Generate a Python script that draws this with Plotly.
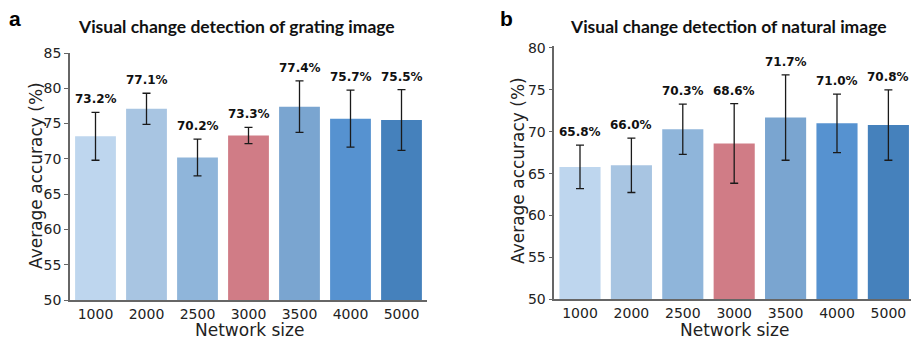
import plotly.graph_objects as go

sizes = ["1000", "2000", "2500", "3000", "3500", "4000", "5000"]
grating_acc = [73.2, 77.1, 70.2, 73.3, 77.4, 75.7, 75.5]
grating_err = [3.4, 2.2, 2.6, 1.15, 3.65, 4.05, 4.3]
natural_acc = [65.8, 66.0, 70.3, 68.6, 71.7, 71.0, 70.8]
natural_err = [2.6, 3.25, 3.0, 4.75, 5.1, 3.5, 4.2]
bar_colors = ["#bed6ee", "#a8c5e2", "#8fb5da", "#d07c86", "#7aa5d0", "#5692d0", "#4581bc"]
titles = ["Visual change detection of grating image", "Visual change detection of natural image"]
panel_letters = ["a", "b"]
x_title = "Network size"
y_title = "Average accuracy (%)"

W, H = 911, 337

def px(x):
    return x / W

def py(y):
    return 1 - y / H

fig = go.Figure()

panels = [
    dict(acc=grating_acc, err=grating_err, xa="x", ya="y", xd=[px(70), px(427)], yd=[py(300), py(53)],
         yr=[50, 85], xr=[-0.5, 6.5], dt=[50, 55, 60, 65, 70, 75, 80, 85],
         xt=(249, 329.5), yt=(36, 176)),
    dict(acc=natural_acc, err=natural_err, xa="x2", ya="y2", xd=[px(554.3), 1.0], yd=[py(299.3), py(46.3)],
         yr=[50, 80.2], xr=[-0.5, 6.44], dt=[50, 55, 60, 65, 70, 75, 80],
         xt=(734.5, 329.5), yt=(518, 171)),
]

axis_font = dict(family="DejaVu Sans", size=14, color="#222")
title_font = dict(family="DejaVu Sans", size=17, color="#222")
for i, p in enumerate(panels):
    fig.add_trace(go.Bar(
        x=list(range(len(sizes))), y=p["acc"], width=0.8,
        marker=dict(color=bar_colors, line=dict(width=0)),
        error_y=dict(type="data", array=p["err"], visible=True, color="#1a1a1a", thickness=1.3, width=4),
        xaxis=p["xa"], yaxis=p["ya"], showlegend=False,
    ))
    for j, (v, e) in enumerate(zip(p["acc"], p["err"])):
        fig.add_annotation(
            x=j, y=v + e, xref=p["xa"], yref=p["ya"], text=f"<b>{v:.1f}%</b>",
            showarrow=False, yanchor="bottom", yshift=4,
            font=dict(family="DejaVu Sans", size=12, color="#111"),
        )
    suffix = "" if i == 0 else "2"
    fig.layout["xaxis" + suffix] = dict(
        domain=p["xd"], range=p["xr"], tickmode="array", tickvals=list(range(len(sizes))), ticktext=sizes,
        showline=True, linecolor="#666", linewidth=1.5, ticks="", tickfont=axis_font,
        anchor="y" + suffix, showgrid=False, zeroline=False, fixedrange=True, automargin=False,
    )
    fig.layout["yaxis" + suffix] = dict(
        domain=p["yd"], range=p["yr"], tickmode="array", tickvals=p["dt"],
        showline=True, linecolor="#666", linewidth=1.5, ticks="outside", ticklen=4, tickcolor="#666",
        tickwidth=1, tickfont=axis_font,
        anchor="x" + suffix, showgrid=False, zeroline=False, fixedrange=True, automargin=False,
    )
    fig.add_annotation(x=px(p["xt"][0]), y=py(p["xt"][1]), xref="paper", yref="paper", text=x_title,
                       showarrow=False, xanchor="center", yanchor="middle", borderpad=0, font=title_font)
    fig.add_annotation(x=px(p["yt"][0]), y=py(p["yt"][1]), xref="paper", yref="paper", text=y_title,
                       showarrow=False, xanchor="center", yanchor="middle", textangle=-90, font=title_font)

title_x = [236, 728.5]
letter_x = [14.5, 506]
for i in range(2):
    fig.add_annotation(x=px(title_x[i]), y=py(27), xref="paper", yref="paper", text=f"<b>{titles[i]}</b>",
                       showarrow=False, xanchor="center", yanchor="middle",
                       font=dict(family="Lato", size=17.5, color="#111"))
    fig.add_annotation(x=px(letter_x[i]), y=py(19), xref="paper", yref="paper", text=f"<b>{panel_letters[i]}</b>",
                       showarrow=False, xanchor="center", yanchor="middle",
                       font=dict(family="Liberation Sans", size=21, color="#000"))

fig.update_layout(
    width=W, height=H, margin=dict(l=0, r=0, t=0, b=0),
    plot_bgcolor="white", paper_bgcolor="white", bargap=0.2,
)

fig.write_html("out.html", config={"displayModeBar": False},
               post_script="document.body.style.margin='0';document.body.style.overflow='hidden';")
